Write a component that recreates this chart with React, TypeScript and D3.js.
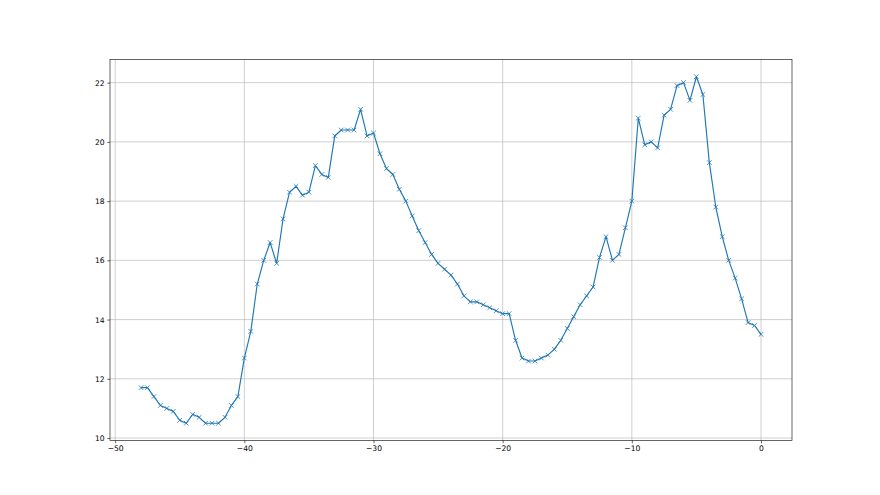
import React, { useEffect, useRef } from 'react';
import * as d3 from 'd3';

// x runs from -48 to 0 at 0.5 steps
const xStart = -48;
const xStep = 0.5;
const yValues = [
  11.7, 11.7, 11.4, 11.1, 11.0, 10.9, 10.6, 10.5, 10.8, 10.7,
  10.5, 10.5, 10.5, 10.7, 11.1, 11.4, 12.7, 13.6, 15.2, 16.0,
  16.6, 15.9, 17.4, 18.3, 18.5, 18.2, 18.3, 19.2, 18.9, 18.8,
  20.2, 20.4, 20.4, 20.4, 21.1, 20.2, 20.3, 19.6, 19.1, 18.9,
  18.4, 18.0, 17.5, 17.0, 16.6, 16.2, 15.9, 15.7, 15.5, 15.2,
  14.8, 14.6, 14.6, 14.5, 14.4, 14.3, 14.2, 14.2, 13.3, 12.7,
  12.6, 12.6, 12.7, 12.8, 13.0, 13.3, 13.7, 14.1, 14.5, 14.8,
  15.1, 16.1, 16.8, 16.0, 16.2, 17.1, 18.0, 20.8, 19.9, 20.0,
  19.8, 20.9, 21.1, 21.9, 22.0, 21.4, 22.2, 21.6, 19.3, 17.8,
  16.8, 16.0, 15.4, 14.7, 13.9, 13.8, 13.5,
];
const xTicks = [-50, -40, -30, -20, -10, 0];
const yTicks = [10, 12, 14, 16, 18, 20, 22];

const width = 880;
const height = 495;
const margin = { left: 110, right: 88, top: 59.4, bottom: 54.45 };
const color = '#1f77b4';

const App = () => {
  const svgRef = useRef<SVGSVGElement>(null);

  useEffect(() => {
    const svg = d3.select(svgRef.current);
    svg.selectAll('*').remove();

    const data = yValues.map((v, i) => ({ x: xStart + i * xStep, y: v }));
    const xMin = d3.min(data, (d) => d.x)!;
    const xMax = d3.max(data, (d) => d.x)!;
    const yMin = d3.min(data, (d) => d.y)!;
    const yMax = d3.max(data, (d) => d.y)!;
    const xPad = (xMax - xMin) * 0.05;
    const yPad = (yMax - yMin) * 0.05;

    const x = d3.scaleLinear()
      .domain([xMin - xPad, xMax + xPad])
      .range([margin.left, width - margin.right]);
    const y = d3.scaleLinear()
      .domain([yMin - yPad, yMax + yPad])
      .range([height - margin.bottom, margin.top]);

    const plotW = width - margin.left - margin.right;
    const plotH = height - margin.top - margin.bottom;
    const fmt = d3.format('d');

    // grid
    svg.append('g')
      .selectAll('line')
      .data(xTicks)
      .enter()
      .append('line')
      .attr('x1', (d) => x(d)).attr('x2', (d) => x(d))
      .attr('y1', margin.top).attr('y2', height - margin.bottom)
      .attr('stroke', '#b0b0b0').attr('stroke-width', 0.6);
    svg.append('g')
      .selectAll('line')
      .data(yTicks)
      .enter()
      .append('line')
      .attr('y1', (d) => y(d)).attr('y2', (d) => y(d))
      .attr('x1', margin.left).attr('x2', width - margin.right)
      .attr('stroke', '#b0b0b0').attr('stroke-width', 0.6);

    // line + markers
    const line = d3.line<{ x: number; y: number }>()
      .x((d) => x(d.x))
      .y((d) => y(d.y));
    svg.append('path')
      .datum(data)
      .attr('d', line)
      .attr('fill', 'none')
      .attr('stroke', color)
      .attr('stroke-width', 1.15)
      .attr('stroke-linejoin', 'round');

    const s = 2.3;
    svg.append('g')
      .selectAll('path')
      .data(data)
      .enter()
      .append('path')
      .attr('d', (d) => {
        const cx = x(d.x), cy = y(d.y);
        return `M${cx - s},${cy - s}L${cx + s},${cy + s}M${cx - s},${cy + s}L${cx + s},${cy - s}`;
      })
      .attr('stroke', color)
      .attr('stroke-width', 0.8)
      .attr('fill', 'none');

    // spines
    svg.append('rect')
      .attr('x', margin.left).attr('y', margin.top)
      .attr('width', plotW).attr('height', plotH)
      .attr('fill', 'none').attr('stroke', '#000').attr('stroke-width', 0.6);

    const xAxis = svg.append('g')
      .attr('transform', `translate(0, ${height - margin.bottom})`)
      .call(d3.axisBottom(x).tickValues(xTicks).tickFormat((d) => fmt(d as number)).tickSize(2.7).tickPadding(2.7));
    const yAxis = svg.append('g')
      .attr('transform', `translate(${margin.left}, 0)`)
      .call(d3.axisLeft(y).tickValues(yTicks).tickFormat((d) => fmt(d as number)).tickSize(2.7).tickPadding(2.7));

    [xAxis, yAxis].forEach((ax) => {
      ax.select('.domain').remove();
      ax.selectAll('.tick line').attr('stroke', '#000').attr('stroke-width', 0.6);
      ax.selectAll('.tick text')
        .attr('fill', '#000')
        .style('font-family', 'DejaVu Sans')
        .style('font-size', '7.6px');
    });
  }, []);

  return (
    <svg
      ref={svgRef}
      width={width}
      height={height}
      style={{ position: 'absolute', left: 0, top: 0, background: '#fff' }}
    />
  );
};

export default App;
